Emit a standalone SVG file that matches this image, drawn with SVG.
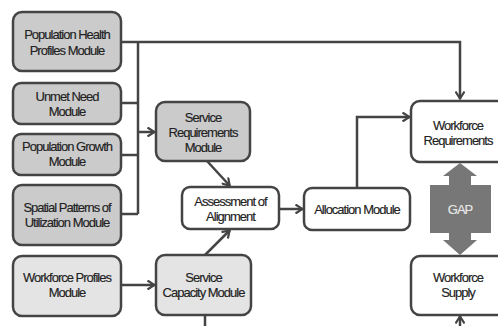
<svg xmlns="http://www.w3.org/2000/svg" width="498" height="326" viewBox="0 0 498 326">
<style>
.box{stroke:#444;stroke-width:2.5}
.dark{fill:#cbcbcb}
.light{fill:#e4e4e4}
.white{fill:#fff}
text{font-family:"Liberation Sans",Arial,sans-serif;font-size:13px;fill:#222;stroke:#222;stroke-width:0.15;text-anchor:middle;letter-spacing:-1px}
.conn{fill:none;stroke:#444;stroke-width:2.5}
.gaptxt{fill:#e8e8e8;stroke:#e8e8e8}
</style>
<defs>
<marker id="arr" viewBox="0 0 10 10" refX="9.5" refY="5" markerWidth="10" markerHeight="10" markerUnits="userSpaceOnUse" orient="auto">
<path d="M2,0.5 L9,5 L2,9.5" fill="none" stroke="#444" stroke-width="2.2"/>
</marker>
</defs>
<rect width="498" height="326" fill="#fff"/>
<g id="connectors">
<path class="conn" d="M121,42 H460 V99" marker-end="url(#arr)"/>
<path class="conn" d="M138,42 V214"/>
<path class="conn" d="M121,103 H138"/>
<path class="conn" d="M121,155 H138"/>
<path class="conn" d="M121,214 H138"/>
<path class="conn" d="M138,132 H155" marker-end="url(#arr)"/>
<path class="conn" d="M207,161 L230,186" marker-end="url(#arr)"/>
<path class="conn" d="M205,255 L230,230" marker-end="url(#arr)"/>
<path class="conn" d="M121,285 H155" marker-end="url(#arr)"/>
<path class="conn" d="M279,209 H303" marker-end="url(#arr)"/>
<path class="conn" d="M357,188 V117 H410" marker-end="url(#arr)"/>
<path class="conn" d="M205,315 V328"/>
<path class="conn" d="M460,330 V316" marker-end="url(#arr)"/>
</g>
<g id="pop-health"><rect class="box dark" x="13" y="12" width="108" height="59" rx="9"/><text x="67" y="38.5">Population Health</text><text x="67" y="54.5">Profiles Module</text></g>
<g id="unmet-need"><rect class="box dark" x="13" y="83" width="108" height="41" rx="8"/><text x="67" y="101">Unmet Need</text><text x="67" y="116">Module</text></g>
<g id="pop-growth"><rect class="box dark" x="13" y="134" width="108" height="41" rx="8"/><text x="67" y="151">Population Growth</text><text x="67" y="166">Module</text></g>
<g id="spatial"><rect class="box dark" x="13" y="185" width="108" height="60" rx="9"/><text x="67" y="212">Spatial Patterns of</text><text x="67" y="227">Utilization Module</text></g>
<g id="workforce-profiles"><rect class="box light" x="13" y="256" width="108" height="60" rx="9"/><text x="67" y="282">Workforce Profiles</text><text x="67" y="297">Module</text></g>
<g id="service-req"><rect class="box dark" x="156" y="102" width="94" height="59" rx="9"/><text x="203" y="121.5">Service</text><text x="203" y="136.5">Requirements</text><text x="203" y="151.5">Module</text></g>
<g id="service-cap"><rect class="box light" x="156" y="255" width="95" height="60" rx="9"/><text x="203.5" y="281.5">Service</text><text x="203.5" y="297">Capacity Module</text></g>
<g id="assessment"><rect class="box white" x="182" y="187" width="97" height="42" rx="8"/><text x="230.5" y="206">Assessment of</text><text x="230.5" y="220.5">Alignment</text></g>
<g id="allocation"><rect class="box white" x="304" y="188" width="106" height="42" rx="8"/><text x="357" y="213.5">Allocation Module</text></g>
<g id="workforce-req"><rect class="box white" x="411" y="101" width="96" height="61" rx="9"/><text x="458" y="129.5">Workforce</text><text x="458" y="144.5">Requirements</text></g>
<g id="workforce-supply"><rect class="box white" x="411" y="256" width="96" height="59" rx="9"/><text x="458" y="282">Workforce</text><text x="458" y="297">Supply</text></g>
<g id="gap"><path d="M460,163 L477,176 L471,176 L471,185 L491,185 L491,233 L471,233 L471,240 L477,240 L460,255 L443,240 L449,240 L449,233 L430,233 L430,185 L449,185 L449,176 L443,176 Z" fill="#777"/><text class="gaptxt" x="460" y="213.5">GAP</text></g>
</svg>
